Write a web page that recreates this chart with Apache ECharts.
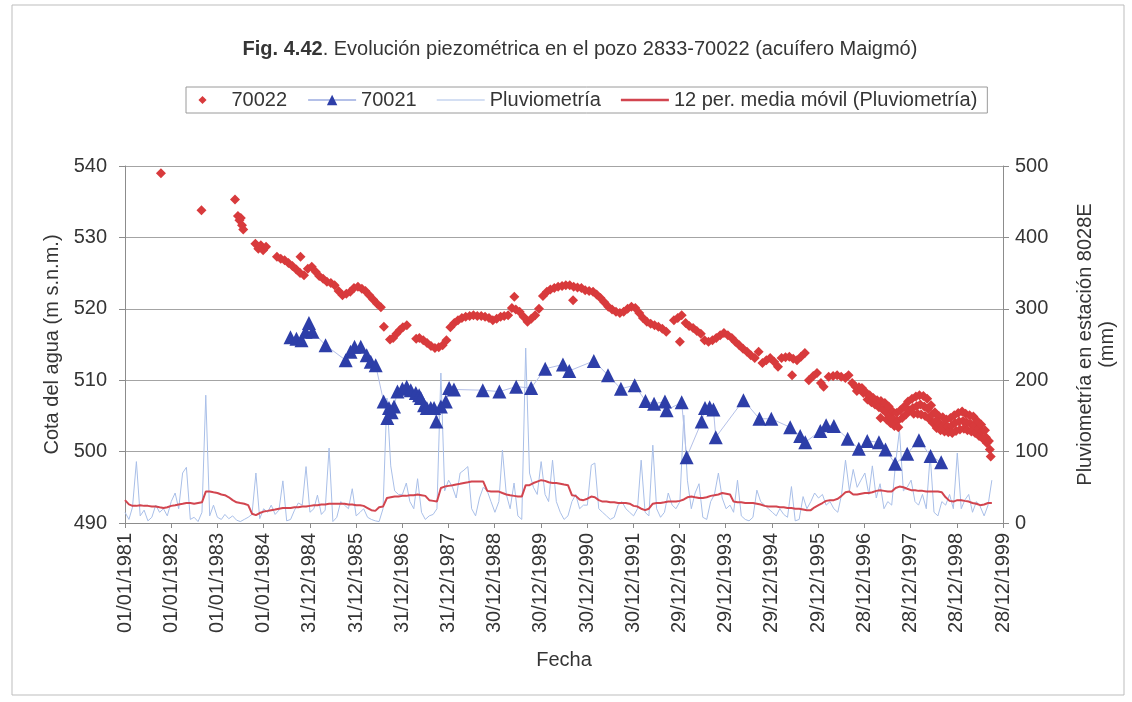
<!DOCTYPE html>
<html lang="es">
<head>
<meta charset="utf-8">
<title>Evolución piezométrica en el pozo 2833-70022</title>
<script src="https://cdn.jsdelivr.net/npm/echarts@6/dist/echarts.min.js"></script>
<style>
  html, body { margin: 0; padding: 0; background: #ffffff; }
  #grafico { width: 1132px; height: 702px; }
</style>
</head>
<body>
<div id="grafico"></div>
<script>
// Etiquetas del eje de fechas (un tick cada 365 días desde 01/01/1981)
const etiquetasFecha = [
  '01/01/1981', '01/01/1982', '01/01/1983', '01/01/1984', '31/12/1984',
  '31/12/1985', '31/12/1986', '31/12/1987', '30/12/1988', '30/12/1989',
  '30/12/1990', '30/12/1991', '29/12/1992', '29/12/1993', '29/12/1994',
  '29/12/1995', '28/12/1996', '28/12/1997', '28/12/1998', '28/12/1999'
];

// Nivel piezométrico pozo 70022 (m s.n.m.)
const pozo70022 = [
  ['1981-10-12', 539.0], ['1982-08-28', 533.8], ['1983-05-20', 535.3],
  ['1983-06-12', 533.0], ['1983-06-24', 532.4], ['1983-07-05', 532.7], ['1983-07-14', 531.7], ['1983-07-24', 531.1],
  ['1983-10-28', 529.1], ['1983-11-20', 528.4], ['1983-12-10', 528.9], ['1983-12-28', 528.2], ['1984-01-20', 528.7],
  ['1984-04-15', 527.3], ['1984-05-15', 527.0], ['1984-06-15', 526.8], ['1984-07-15', 526.4], ['1984-08-15', 526.0],
  ['1984-09-15', 525.5], ['1984-10-15', 525.0], ['1984-10-18', 527.3], ['1984-11-15', 524.7], ['1984-12-15', 525.6],
  ['1985-01-15', 525.9], ['1985-02-15', 525.2], ['1985-03-15', 524.6], ['1985-04-15', 524.2], ['1985-05-15', 523.8],
  ['1985-06-15', 523.6], ['1985-07-15', 523.3], ['1985-08-15', 522.5], ['1985-09-15', 521.9], ['1985-10-15', 522.1],
  ['1985-11-15', 522.4], ['1985-12-15', 522.9],
  ['1986-01-15', 523.1], ['1986-02-15', 522.8], ['1986-03-15', 522.5], ['1986-04-15', 521.9], ['1986-05-15', 521.3],
  ['1986-06-15', 520.7], ['1986-07-15', 520.2],
  ['1986-08-08', 517.5], ['1986-09-25', 515.7], ['1986-10-20', 515.9], ['1986-11-15', 516.5], ['1986-12-10', 517.0],
  ['1987-01-05', 517.4], ['1987-02-05', 517.7],
  ['1987-04-20', 515.8], ['1987-05-15', 515.9], ['1987-06-15', 515.6], ['1987-07-15', 515.2], ['1987-08-15', 514.8],
  ['1987-09-15', 514.5], ['1987-10-15', 514.6], ['1987-11-15', 514.9], ['1987-12-15', 515.6],
  ['1988-01-15', 517.4], ['1988-02-15', 518.0], ['1988-03-15', 518.4], ['1988-04-15', 518.7], ['1988-05-15', 518.9],
  ['1988-06-15', 519.0], ['1988-07-15', 519.1], ['1988-08-15', 519.0], ['1988-09-15', 519.0], ['1988-10-15', 518.9],
  ['1988-11-15', 518.7], ['1988-12-15', 518.4],
  ['1989-01-15', 518.6], ['1989-02-15', 518.9], ['1989-03-15', 519.0], ['1989-04-15', 519.1], ['1989-05-15', 520.1],
  ['1989-06-03', 521.7], ['1989-06-15', 519.9], ['1989-07-15', 519.6], ['1989-08-15', 518.9], ['1989-09-15', 518.2],
  ['1989-10-15', 518.6], ['1989-11-15', 519.1], ['1989-12-15', 520.0],
  ['1990-01-15', 521.8], ['1990-02-15', 522.4], ['1990-03-15', 522.7], ['1990-04-15', 522.9], ['1990-05-15', 523.1],
  ['1990-06-15', 523.2], ['1990-07-15', 523.3], ['1990-08-15', 523.3], ['1990-09-10', 521.2], ['1990-09-15', 523.1],
  ['1990-10-15', 523.0], ['1990-11-15', 522.9], ['1990-12-15', 522.6],
  ['1991-01-15', 522.5], ['1991-02-15', 522.4], ['1991-03-15', 522.0], ['1991-04-15', 521.5], ['1991-05-15', 520.9],
  ['1991-06-15', 520.3], ['1991-07-15', 519.9], ['1991-08-15', 519.6], ['1991-09-15', 519.4], ['1991-10-15', 519.6],
  ['1991-11-15', 520.0], ['1991-12-15', 520.3],
  ['1992-01-15', 520.1], ['1992-02-15', 519.4], ['1992-03-15', 518.7], ['1992-04-15', 518.2], ['1992-05-15', 517.9],
  ['1992-06-15', 517.7], ['1992-07-15', 517.5], ['1992-08-15', 517.2], ['1992-09-15', 516.8], ['1992-11-15', 518.4],
  ['1992-12-15', 518.7],
  ['1993-01-01', 515.4], ['1993-01-15', 519.1], ['1993-02-15', 518.0], ['1993-03-15', 517.6], ['1993-04-15', 517.3],
  ['1993-05-15', 516.9], ['1993-06-15', 516.5], ['1993-07-15', 515.6], ['1993-08-15', 515.4], ['1993-09-15', 515.6],
  ['1993-10-15', 515.9], ['1993-11-15', 516.3], ['1993-12-15', 516.6],
  ['1994-01-15', 516.3], ['1994-02-15', 515.9], ['1994-03-15', 515.4], ['1994-04-15', 514.9], ['1994-05-15', 514.4],
  ['1994-06-15', 514.0], ['1994-07-15', 513.5], ['1994-08-15', 513.1], ['1994-09-15', 514.0], ['1994-10-15', 512.4],
  ['1994-11-15', 512.8], ['1994-12-15', 513.1],
  ['1995-01-15', 512.6], ['1995-02-15', 511.9], ['1995-03-15', 513.1], ['1995-04-15', 513.2], ['1995-05-15', 513.3],
  ['1995-06-06', 510.7], ['1995-06-15', 513.0], ['1995-07-15', 512.8], ['1995-08-15', 513.3], ['1995-09-15', 513.8],
  ['1995-10-16', 510.0], ['1995-11-20', 510.6], ['1995-12-20', 511.0],
  ['1996-01-20', 509.6], ['1996-02-10', 509.1], ['1996-03-21', 510.5], ['1996-04-25', 510.6], ['1996-05-27', 510.7],
  ['1996-06-28', 510.5], ['1996-07-31', 510.3], ['1996-08-25', 510.7], ['1996-09-23', 509.6], ['1996-10-19', 509.1],
  ['1996-10-30', 508.5], ['1996-11-15', 509.0], ['1996-12-09', 508.9], ['1996-12-20', 508.2],
  ['1997-01-08', 508.3], ['1997-01-22', 507.3], ['1997-02-08', 507.9], ['1997-02-22', 506.9],
  ['1997-03-08', 507.5], ['1997-03-22', 506.6], ['1997-04-08', 507.2], ['1997-04-22', 506.2],
  ['1997-05-05', 504.7], ['1997-05-08', 507.1], ['1997-05-22', 505.9],
  ['1997-06-08', 506.8], ['1997-06-15', 505.5], ['1997-06-22', 504.5],
  ['1997-07-08', 506.3], ['1997-07-15', 505.0], ['1997-07-22', 504.0],
  ['1997-08-08', 505.6], ['1997-08-15', 504.5], ['1997-08-22', 503.6],
  ['1997-09-08', 505.4], ['1997-09-15', 504.3], ['1997-09-22', 503.4],
  ['1997-10-08', 505.8], ['1997-10-22', 504.7], ['1997-11-08', 506.3], ['1997-11-22', 505.2],
  ['1997-12-08', 507.0], ['1997-12-22', 505.8],
  ['1998-01-08', 507.4], ['1998-01-15', 506.1], ['1998-01-22', 505.3],
  ['1998-02-08', 507.7], ['1998-02-15', 506.4], ['1998-02-22', 505.3],
  ['1998-03-08', 507.9], ['1998-03-15', 506.6], ['1998-03-22', 505.2],
  ['1998-04-08', 507.8], ['1998-04-15', 506.3], ['1998-04-22', 505.0],
  ['1998-05-08', 507.4], ['1998-05-15', 506.0], ['1998-05-22', 504.6],
  ['1998-06-08', 506.5], ['1998-06-15', 505.2], ['1998-06-22', 504.0],
  ['1998-07-08', 505.5], ['1998-07-15', 504.3], ['1998-07-22', 503.3],
  ['1998-08-08', 505.0], ['1998-08-15', 503.9], ['1998-08-22', 503.0],
  ['1998-09-08', 504.8], ['1998-09-15', 503.7], ['1998-09-22', 502.8],
  ['1998-10-08', 504.5], ['1998-10-15', 503.5], ['1998-10-22', 502.7],
  ['1998-11-08', 504.7], ['1998-11-15', 503.6], ['1998-11-22', 502.6],
  ['1998-12-08', 505.1], ['1998-12-15', 504.0], ['1998-12-22', 502.9],
  ['1999-01-08', 505.4], ['1999-01-15', 504.2], ['1999-01-22', 503.1],
  ['1999-02-08', 505.6], ['1999-02-15', 504.3], ['1999-02-22', 503.2],
  ['1999-03-08', 505.3], ['1999-03-15', 504.1], ['1999-03-22', 503.0],
  ['1999-04-08', 505.1], ['1999-04-15', 503.9], ['1999-04-22', 502.8],
  ['1999-05-08', 504.9], ['1999-05-15', 503.7], ['1999-05-22', 502.6],
  ['1999-06-08', 504.3], ['1999-06-15', 503.2], ['1999-06-22', 502.2],
  ['1999-07-08', 503.8], ['1999-07-15', 502.8], ['1999-07-22', 501.8],
  ['1999-08-08', 503.0], ['1999-08-15', 502.0], ['1999-08-22', 501.2],
  ['1999-09-08', 501.5], ['1999-09-15', 500.3], ['1999-09-22', 499.3]
];

// Nivel piezométrico pozo 70021 (m s.n.m.)
const pozo70021 = [
  ['1984-07-31', 516.0], ['1984-09-16', 515.8], ['1984-10-26', 515.6], ['1984-11-27', 516.8], ['1984-12-24', 518.0],
  ['1985-01-21', 516.8], ['1985-05-04', 514.9], ['1985-10-10', 512.8], ['1985-11-17', 514.0], ['1985-12-19', 514.7],
  ['1986-02-06', 514.7], ['1986-03-25', 513.5], ['1986-04-26', 512.6], ['1986-06-04', 512.1], ['1986-08-06', 507.0],
  ['1986-09-04', 504.7], ['1986-09-17', 506.1], ['1986-10-08', 505.5], ['1986-10-27', 506.3], ['1986-11-23', 508.4],
  ['1987-01-01', 508.8], ['1987-02-04', 509.1], ['1987-03-08', 508.6], ['1987-04-17', 508.2], ['1987-05-13', 507.9],
  ['1987-05-26', 507.5], ['1987-06-21', 506.5], ['1987-07-13', 506.1], ['1987-08-13', 506.1], ['1987-09-08', 506.1],
  ['1987-09-26', 504.2], ['1987-11-01', 506.3], ['1987-12-10', 507.0], ['1988-01-05', 508.9], ['1988-02-12', 508.7],
  ['1988-09-27', 508.6], ['1989-02-05', 508.4], ['1989-06-18', 509.1], ['1989-10-14', 508.9], ['1990-02-02', 511.6],
  ['1990-06-22', 512.2], ['1990-08-11', 511.3], ['1991-02-21', 512.7], ['1991-06-13', 510.7], ['1991-09-23', 508.8],
  ['1992-01-10', 509.3], ['1992-04-04', 507.1], ['1992-06-11', 506.7], ['1992-09-05', 507.0], ['1992-09-18', 505.8],
  ['1993-01-15', 506.9], ['1993-02-23', 499.2], ['1993-06-22', 504.2], ['1993-07-18', 506.1], ['1993-08-24', 506.2],
  ['1993-09-23', 505.9], ['1993-10-11', 502.0], ['1994-05-18', 507.2], ['1994-09-21', 504.6], ['1994-12-24', 504.6],
  ['1995-05-22', 503.4], ['1995-08-09', 502.2], ['1995-09-18', 501.3], ['1996-01-15', 502.9], ['1996-03-01', 503.7],
  ['1996-05-01', 503.6], ['1996-08-18', 501.8], ['1996-11-14', 500.4], ['1997-01-20', 501.5], ['1997-04-22', 501.3],
  ['1997-06-13', 500.3], ['1997-08-28', 498.3], ['1997-12-01', 499.7], ['1998-03-04', 501.6], ['1998-06-04', 499.4],
  ['1998-08-27', 498.5]
];

// Pluviometría mensual en la estación 8028E (mm), desde enero de 1981
const pluviometria = [
  15, 5, 22, 86, 10, 18, 3, 8, 25, 15, 20, 10,          // 1981
  30, 42, 20, 70, 78, 5, 8, 2, 15, 179, 10, 25,         // 1982
  8, 5, 12, 6, 10, 4, 2, 5, 8, 12, 70, 6,               // 1983
  20, 15, 25, 12, 18, 59, 3, 5, 18, 28, 25, 79,         // 1984
  15, 20, 39, 12, 18, 105, 2, 8, 30, 25, 20, 48,        // 1985
  10, 15, 20, 8, 5, 3, 2, 20, 175, 80, 45, 40,          // 1986
  40, 56, 30, 20, 62, 15, 5, 10, 12, 20, 210, 45,       // 1987
  60, 50, 35, 70, 74, 79, 20, 10, 35, 50, 45, 30,       // 1988
  15, 30, 102, 40, 20, 56, 10, 5, 245, 70, 50, 40,      // 1989
  86, 40, 30, 88, 30, 15, 5, 10, 30, 40, 20, 25,        // 1990
  25, 81, 84, 20, 15, 10, 5, 8, 25, 30, 20, 15,         // 1991
  10, 20, 88, 15, 10, 109, 20, 8, 15, 42, 25, 20,       // 1992
  30, 151, 60, 20, 42, 55, 8, 5, 30, 40, 70, 35,        // 1993
  20, 25, 15, 60, 10, 5, 3, 8, 46, 30, 25, 20,          // 1994
  15, 10, 20, 12, 8, 51, 3, 5, 37, 20, 30, 42,          // 1995
  35, 40, 25, 30, 20, 15, 40, 88, 45, 75, 50, 60,       // 1996
  70, 40, 80, 35, 55, 20, 30, 25, 84, 130, 45, 50,      // 1997
  60, 30, 25, 40, 20, 95, 15, 10, 30, 25, 40, 20,       // 1998
  98, 20, 32, 40, 15, 30, 23, 10, 25, 60                // 1999
];

// Media móvil de 12 periodos de la pluviometría (mm)
const mediaMovil12 = [
  32, 26, 24, 24, 25, 24, 24, 23, 23, 22, 21, 22,       // 1981
  24, 25, 26, 27, 28, 28, 27, 28, 29, 44, 44, 43,       // 1982
  42, 40, 39, 36, 32, 29, 28, 27, 25, 13, 11, 14,       // 1983
  16, 17, 18, 19, 20, 21, 21, 21, 22, 22, 23, 23,       // 1984
  24, 25, 25, 26, 26, 27, 27, 27, 27, 27, 26, 26,       // 1985
  25, 25, 24, 21, 18, 17, 22, 23, 35, 36, 37, 37,       // 1986
  38, 38, 39, 39, 40, 39, 38, 32, 31, 30, 49, 51,       // 1987
  52, 53, 54, 55, 56, 57, 58, 58, 58, 58, 45, 44,       // 1988
  44, 44, 42, 40, 39, 38, 37, 37, 53, 53, 56, 58,       // 1989
  60, 59, 57, 56, 56, 55, 54, 53, 39, 38, 33, 32,       // 1990
  34, 37, 36, 32, 30, 30, 29, 29, 28, 28, 28, 27,       // 1991
  24, 23, 20, 18, 20, 27, 28, 28, 29, 30, 30, 30,       // 1992
  31, 33, 36, 37, 36, 35, 35, 36, 38, 39, 40, 42,       // 1993
  41, 40, 30, 29, 29, 28, 28, 28, 27, 26, 24, 23,       // 1994
  23, 23, 22, 22, 21, 21, 20, 20, 19, 18, 18, 22,       // 1995
  25, 28, 31, 32, 32, 34, 38, 43, 44, 40, 40, 41,       // 1996
  42, 42, 43, 45, 46, 45, 44, 44, 49, 51, 50, 48,       // 1997
  46, 46, 45, 45, 44, 44, 44, 44, 43, 36, 31, 30,       // 1998
  32, 32, 31, 30, 28, 27, 25, 26, 28, 28                // 1999
];

// El eje X trabaja en días transcurridos desde el 01/01/1981
const DIA_MS = 86400000;
const ORIGEN = Date.UTC(1981, 0, 1);
function diasDesde(iso) {
  const p = iso.split('-').map(Number);
  return (Date.UTC(p[0], p[1] - 1, p[2]) - ORIGEN) / DIA_MS;
}
function diasMes(k) {
  return (Date.UTC(1981, k, 1) - ORIGEN) / DIA_MS;
}

const FUENTE = "'Liberation Sans', Arial, Helvetica, sans-serif";
const TEXTO = '#353535';
const EJE = '#8c8c8c';

const chart = echarts.init(document.getElementById('grafico'), null, { renderer: 'canvas' });

chart.setOption({
  animation: false,
  backgroundColor: '#ffffff',
  textStyle: { fontFamily: FUENTE, color: TEXTO },
  title: {
    text: '{b|Fig. 4.42}. Evolución piezométrica en el pozo 2833-70022 (acuífero Maigmó)',
    left: 575,
    top: 34,
    textAlign: 'center',
    textStyle: {
      fontFamily: FUENTE, fontSize: 20, fontWeight: 'normal', color: TEXTO,
      rich: { b: { fontFamily: FUENTE, fontSize: 20, fontWeight: 'bold', color: TEXTO } }
    }
  },
  legend: {
    left: 186,
    top: 87,
    itemWidth: 48,
    itemHeight: 13,
    itemGap: 20,
    padding: [3, 10],
    borderColor: '#9a9a9a',
    borderWidth: 1,
    textStyle: { fontFamily: FUENTE, fontSize: 20, color: TEXTO },
    data: [
      { name: '70022', icon: 'path://M0,0M16,16M8,3L13,8L8,13L3,8Z' },
      { name: '70021' },
      { name: 'Pluviometría', icon: 'path://M0,0H40V1H0Z' },
      { name: '12 per. media móvil (Pluviometría)', icon: 'path://M0,0H40V2H0Z' }
    ]
  },
  graphic: [{
    type: 'rect',
    shape: { x: 12, y: 5, width: 1112, height: 690 },
    style: { fill: null, stroke: '#bdbdbd', lineWidth: 1 },
    silent: true
  }],
  grid: { left: 125, right: 129, top: 166, bottom: 179, outerBoundsMode: 'none' },
  xAxis: {
    type: 'value',
    min: 0,
    max: 6935,
    interval: 365,
    name: 'Fecha',
    nameLocation: 'middle',
    nameGap: 127,
    nameTextStyle: { fontFamily: FUENTE, fontSize: 20, color: TEXTO },
    axisLine: { show: true, lineStyle: { color: EJE, width: 1 } },
    axisTick: { show: true, length: 5, lineStyle: { color: EJE } },
    splitLine: { show: false },
    axisLabel: {
      rotate: 90,
      margin: 10,
      fontFamily: FUENTE,
      fontSize: 20,
      color: TEXTO,
      showMinLabel: true,
      showMaxLabel: true,
      hideOverlap: false,
      formatter: (v) => etiquetasFecha[Math.round(v / 365)]
    }
  },
  yAxis: [{
    type: 'value',
    position: 'left',
    min: 490,
    max: 540,
    interval: 10,
    name: 'Cota del agua (m s.n.m.)',
    nameLocation: 'middle',
    nameRotate: 90,
    nameGap: 53,
    nameTextStyle: { fontFamily: FUENTE, fontSize: 20, color: TEXTO },
    axisLine: { show: true, lineStyle: { color: EJE, width: 1 } },
    axisTick: { show: true, length: 6, lineStyle: { color: EJE } },
    splitLine: { show: true, lineStyle: { color: '#a4a4a4', width: 1 } },
    axisLabel: { margin: 18, fontFamily: FUENTE, fontSize: 20, color: TEXTO }
  }, {
    type: 'value',
    position: 'right',
    min: 0,
    max: 500,
    interval: 100,
    name: 'Pluviometría en estación 8028E\n(mm)',
    nameLocation: 'middle',
    nameRotate: 90,
    nameGap: 71,
    nameTextStyle: { fontFamily: FUENTE, fontSize: 20, color: TEXTO, lineHeight: 22, align: 'center' },
    axisLine: { show: true, lineStyle: { color: EJE, width: 1 } },
    axisTick: { show: true, length: 6, lineStyle: { color: EJE } },
    splitLine: { show: false },
    axisLabel: { margin: 12, fontFamily: FUENTE, fontSize: 20, color: TEXTO }
  }],
  series: [{
    name: 'Pluviometría',
    type: 'line',
    yAxisIndex: 1,
    symbol: 'none',
    itemStyle: { color: '#a9bfe8' },
    lineStyle: { color: '#a9bfe8', width: 1 },
    data: pluviometria.map((v, k) => [diasMes(k), v]),
    z: 2
  }, {
    name: '12 per. media móvil (Pluviometría)',
    type: 'line',
    yAxisIndex: 1,
    symbol: 'none',
    itemStyle: { color: '#d2454f' },
    lineStyle: { color: '#d2454f', width: 2 },
    data: mediaMovil12.map((v, k) => [diasMes(k), v]),
    z: 3
  }, {
    name: '70021',
    type: 'line',
    yAxisIndex: 0,
    symbol: 'triangle',
    symbolSize: 14,
    showAllSymbol: true,
    itemStyle: { color: '#2d3ea8' },
    lineStyle: { color: '#b4c0e8', width: 1 },
    data: pozo70021.map(([f, v]) => [diasDesde(f), v]),
    z: 4
  }, {
    name: '70022',
    type: 'scatter',
    yAxisIndex: 0,
    symbol: 'diamond',
    symbolSize: 10,
    itemStyle: { color: '#d83a3c', opacity: 1 },
    data: pozo70022.map(([f, v]) => [diasDesde(f), v]),
    z: 5
  }]
});
</script>
</body>
</html>
